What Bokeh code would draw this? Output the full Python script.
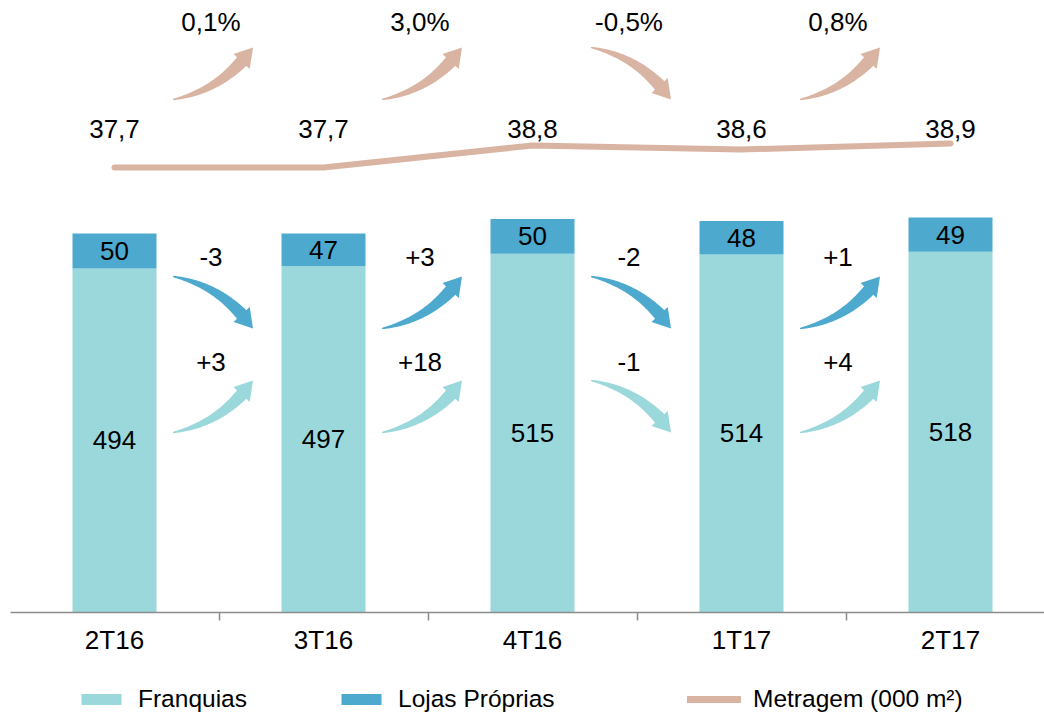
import numpy as np
from bokeh.plotting import figure
from bokeh.layouts import column
from bokeh.models import Range1d, FixedTicker, Legend, LegendItem, ColumnDataSource
from bokeh.core.properties import value
from bokeh.embed import file_html
from bokeh.resources import INLINE

# ---------------- data ----------------
periods = ["2T16", "3T16", "4T16", "1T17", "2T17"]
franquias = [494, 497, 515, 514, 518]
lojas_proprias = [50, 47, 50, 48, 49]
metragem = [37.7, 37.7, 38.8, 38.6, 38.9]
metragem_labels = ["37,7", "37,7", "38,8", "38,6", "38,9"]
metragem_var = ["0,1%", "3,0%", "-0,5%", "0,8%"]
series_names = ["Franquias", "Lojas Próprias", "Metragem (000 m²)"]

# ---------------- style ----------------
FRANQ = "#9BD8DB"
LOJAS = "#4DAACE"
METR = "#D9B4A2"
AXIS = "#8C8C8C"
FONT = "Liberation Sans"
FS = "26px"
LFS = "24.5px"

W = 1044
H_MAIN, H_LEG = 662, 52
ML, MB = 10, 50
FW, FH = W - ML, H_MAIN - MB
PX_X = 209.0
x_start = -0.5 + 0.5 / PX_X
x_end = x_start + FW / PX_X
PX_Y = 0.6965
y_end = FH / PX_Y
PX_M = 20.0
m_start = 37.7 - (612 - 167) / PX_M
m_end = m_start + FH / PX_M

p = figure(width=W, height=H_MAIN, x_range=Range1d(x_start, x_end),
           y_range=Range1d(0, y_end), output_backend="svg",
           toolbar_location=None, y_axis_location=None,
           min_border_left=ML, min_border_right=0, min_border_top=0,
           min_border_bottom=MB)
p.extra_y_ranges = {"m": Range1d(m_start, m_end)}
p.grid.visible = False
p.outline_line_color = None
p.background_fill_color = "white"

xs = list(range(len(periods)))
src = ColumnDataSource(dict(
    x=xs, franq=franquias, lojas=lojas_proprias,
    franq_y=[f / 2 for f in franquias],
    lojas_y=[f + l / 2 for f, l in zip(franquias, lojas_proprias)],
    franq_t=[str(v) for v in franquias],
    lojas_t=[str(v) for v in lojas_proprias],
))
rs = p.vbar_stack(["franq", "lojas"], x="x", width=84 / PX_X, color=[FRANQ, LOJAS],
                  line_color=None, source=src)

txt = dict(text_font=value(FONT), text_font_size=FS, text_color="black",
           text_align="center", text_baseline="middle")
p.text(x="x", y="franq_y", text="franq_t", source=src, **txt)
p.text(x="x", y="lojas_y", text="lojas_t", source=src, **txt)

# metragem line
lr = p.line(xs, metragem, y_range_name="m", line_width=6, line_color=METR, line_cap="round")
lab_level = m_start + (612 - 128) / PX_M
p.text(x=xs, y=[lab_level] * len(xs), text=metragem_labels, y_range_name="m", **txt)


# ---------------- curved arrows ----------------
def arrow_shape(cx, cy, up, hdx=40.0, hdy=26.0):
    sx, ex = -hdx, hdx
    sy, ey = (-hdy, hdy) if up else (hdy, -hdy)
    cxp, cyp = sx + 0.62 * (ex - sx), sy + 0.18 * (ey - sy)
    t = np.linspace(0, 1, 80)
    bx = (1 - t) ** 2 * sx + 2 * (1 - t) * t * cxp + t ** 2 * ex
    by = (1 - t) ** 2 * sy + 2 * (1 - t) * t * cyp + t ** 2 * ey
    s = np.concatenate([[0], np.cumsum(np.hypot(np.diff(bx), np.diff(by)))])
    S = s[-1]
    head = 17.0
    sb = S - head
    gx, gy = np.gradient(bx), np.gradient(by)
    gn = np.hypot(gx, gy)
    nx, ny = -gy / gn, gx / gn
    m = s <= sb
    w = 0.6 + 5.8 * (s[m] / sb) ** 0.85
    lx, ly = bx[m] + nx[m] * w, by[m] + ny[m] * w
    rx, ry = bx[m] - nx[m] * w, by[m] - ny[m] * w
    k = m.sum() - 1
    hw = 11.0
    hlx, hly = bx[k] + nx[k] * hw, by[k] + ny[k] * hw
    hrx, hry = bx[k] - nx[k] * hw, by[k] - ny[k] * hw
    px_ = list(lx) + [hlx, ex, hrx] + list(rx[::-1])
    py_ = list(ly) + [hly, ey, hry] + list(ry[::-1])
    return [cx + v / PX_X for v in px_], [cy + v / PX_Y for v in py_]


def to_units(page_y):
    return (612 - page_y) / PX_Y


d_lojas = [b - a for a, b in zip(lojas_proprias[:-1], lojas_proprias[1:])]
d_franq = [b - a for a, b in zip(franquias[:-1], franquias[1:])]
mids = [i + 0.5 - 6 / PX_X for i in range(len(periods) - 1)]

groups = [
    (d_lojas, [("%+d" % v) for v in d_lojas], LOJAS, 302, 256),
    (d_franq, [("%+d" % v) for v in d_franq], FRANQ, 406, 361),
    ([1 if not v.startswith("-") else -1 for v in metragem_var], metragem_var, METR, 73, 21),
]
for deltas, labels, col, ay, ty in groups:
    axs, ays = [], []
    for mx, dv in zip(mids, deltas):
        ax_, ay_ = arrow_shape(mx, to_units(ay), dv >= 0)
        axs.append(ax_)
        ays.append(ay_)
    p.patches(axs, ays, fill_color=col, line_color=None)
    p.text(x=[mx - 2 / PX_X for mx in mids], y=[to_units(ty)] * len(mids), text=labels, **txt)

# ---------------- axis ----------------
ax = p.xaxis[0]
ax.ticker = FixedTicker(ticks=xs, minor_ticks=[i - 0.5 for i in range(len(periods) + 1)])
ax.major_label_overrides = {i: periods[i] for i in xs}
ax.major_tick_out = 0
ax.major_tick_in = 0
ax.minor_tick_out = 8
ax.minor_tick_in = 0
ax.minor_tick_line_color = AXIS
ax.minor_tick_line_width = 1.5
ax.axis_line_color = AXIS
ax.axis_line_width = 1.5
ax.major_label_text_font = FONT
ax.major_label_text_font_size = FS
ax.major_label_text_color = "black"
ax.major_label_standoff = 4

# ---------------- legend (separate strip below) ----------------
lf = figure(width=W, height=H_LEG, x_range=Range1d(0, 1), y_range=Range1d(0, 1),
            output_backend="svg", toolbar_location=None, x_axis_location=None,
            y_axis_location=None, min_border=0)
lf.grid.visible = False
lf.outline_line_color = None
# swatch renderers kept outside the visible range; only their legend glyphs show
lg_f = lf.vbar(x=[5], top=[1], width=0.1, color=FRANQ, line_color=None)
lg_l = lf.vbar(x=[5], top=[1], width=0.1, color=LOJAS, line_color=None)
lg_m = lf.line(x=[5, 6], y=[0.5, 0.5], line_width=7, line_color=METR, line_cap="round")

leg_common = dict(orientation="horizontal", padding=0, margin=0, border_line_color=None,
                  background_fill_alpha=0, label_text_font=FONT, label_text_font_size=LFS,
                  label_text_color="black", label_standoff=12, label_height=26,
                  glyph_height=14)
for name, rend, lx, gw in zip(series_names, [lg_f, lg_l, lg_m], [66, 326, 677], [50, 50, 54]):
    lf.add_layout(Legend(items=[LegendItem(label=name, renderers=[rend])],
                         location=(lx, 1), glyph_width=gw, **leg_common), "center")

open("out.html", "w").write(file_html(column(p, lf, spacing=0), INLINE))
